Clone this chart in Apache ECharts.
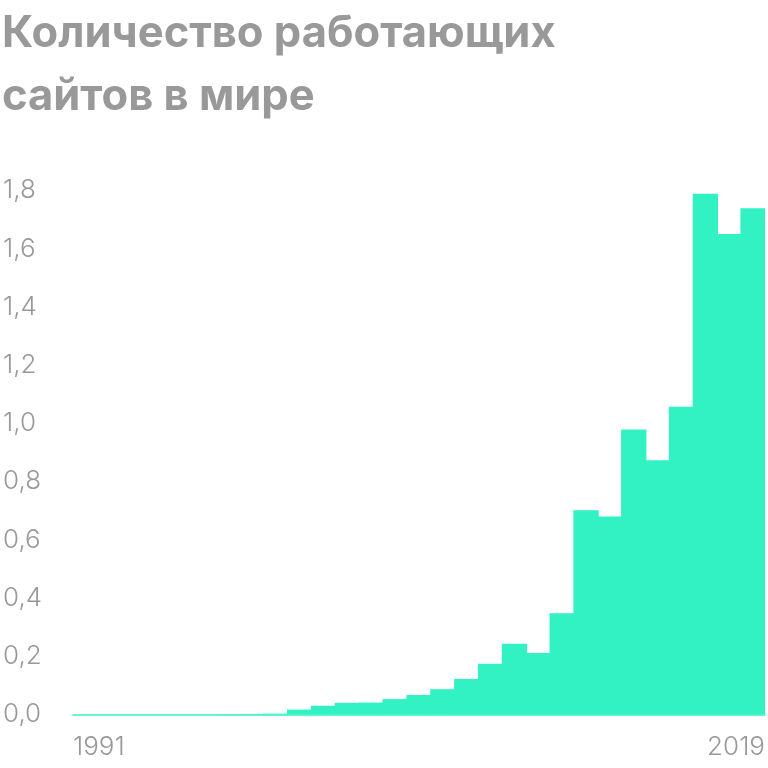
<!DOCTYPE html>
<html>
<head>
<meta charset="utf-8">
<script src="https://cdn.jsdelivr.net/npm/echarts@6/dist/echarts.min.js"></script>
<style>
  html, body { margin: 0; padding: 0; background: #fff; }
  #chart { width: 768px; height: 768px; }
</style>
</head>
<body>
<div id="chart"></div>
<script>
// годы и число работающих сайтов, млрд
const years = [
  '1991', '1992', '1993', '1994', '1995', '1996', '1997', '1998', '1999', '2000',
  '2001', '2002', '2003', '2004', '2005', '2006', '2007', '2008', '2009', '2010',
  '2011', '2012', '2013', '2014', '2015', '2016', '2017', '2018', '2019'
];
const sites = [
  0, 0, 0, 0, 0, 0, 0.001, 0.002, 0.003, 0.017,
  0.030, 0.040, 0.041, 0.053, 0.067, 0.087, 0.122, 0.174, 0.243, 0.211,
  0.348, 0.702, 0.680, 0.979, 0.873, 1.057, 1.789, 1.651, 1.739
];
const yTicks = [0, 0.2, 0.4, 0.6, 0.8, 1.0, 1.2, 1.4, 1.6, 1.8];

const grey = '#999999';
const teal = '#32F2C4';

const chart = echarts.init(document.getElementById('chart'));

chart.setOption({
  animation: false,
  backgroundColor: '#fff',
  title: {
    text: 'Количество работающих\nсайтов в мире',
    left: 2,
    top: 2,
    padding: 0,
    textStyle: {
      fontFamily: 'Inter',
      fontWeight: 'bold',
      fontSize: 43.5,
      lineHeight: 63.5,
      color: grey
    }
  },
  grid: { left: 72, right: 0, top: 190.5, bottom: 53.5, containLabel: false },
  xAxis: [
    {
      type: 'category',
      data: years,
      axisLine: { show: true, lineStyle: { color: teal, width: 1.5 } },
      axisTick: { show: false },
      axisLabel: { show: false },
      splitLine: { show: false }
    },
    {
      // only carries the first and last year labels, aligned to the plot edges
      type: 'value',
      position: 'bottom',
      min: 0,
      max: years.length,
      interval: years.length,
      axisLine: { show: false },
      axisTick: { show: false },
      splitLine: { show: false },
      axisLabel: {
        margin: 20,
        fontFamily: 'Inter',
        fontWeight: 300,
        fontSize: 26,
        color: grey,
        alignMinLabel: 'left',
        alignMaxLabel: 'right',
        formatter: v => v === 0 ? years[0] : years[years.length - 1]
      }
    }
  ],
  yAxis: {
    type: 'value',
    min: 0,
    max: yTicks[yTicks.length - 1],
    interval: 0.2,
    axisLine: { show: false },
    axisTick: { show: false },
    splitLine: { show: false },
    axisLabel: {
      align: 'left',
      margin: 70,
      fontFamily: 'Inter',
      fontWeight: 300,
      fontSize: 26,
      color: grey,
      formatter: v => v.toFixed(1).replace('.', ',')
    }
  },
  series: [{
    type: 'bar',
    xAxisIndex: 0,
    data: sites,
    barWidth: '106%',
    itemStyle: { color: teal }
  }]
});
</script>
</body>
</html>
